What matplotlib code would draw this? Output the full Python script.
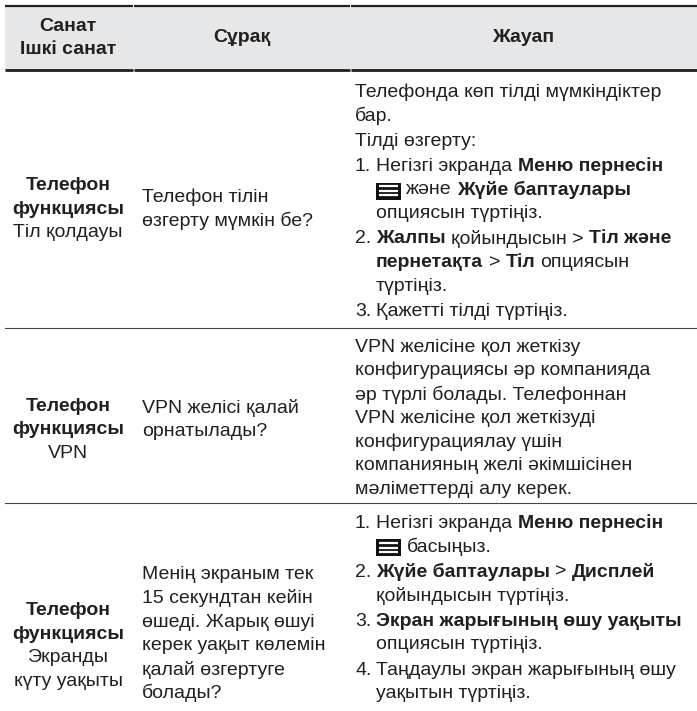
import matplotlib
matplotlib.use("Agg")
import matplotlib.pyplot as plt
from matplotlib.patches import Rectangle

W, H = 697, 711
FONT = ["Liberation Sans", "DejaVu Sans"]
FS = 14
INK = "#231f20"
MENU = "<menu>"

# ----------------------------------------------------------------------
# table content
# ----------------------------------------------------------------------
headers = [["Санат", "Ішкі санат"], ["Сұрақ"], ["Жауап"]]

categories = [
    [("Телефон", True), ("функциясы", True), ("Тіл қолдауы", False)],
    [("Телефон", True), ("функциясы", True), ("VPN", False)],
    [("Телефон", True), ("функциясы", True), ("Экранды", False), ("күту уақыты", False)],
]

questions = [
    ["Телефон тілін", "өзгерту мүмкін бе?"],
    ["VPN желісі қалай", "орнатылады?"],
    ["Менің экраным тек", "15 секундтан кейін", "өшеді. Жарық өшуі",
     "керек уақыт көлемін", "қалай өзгертуге", "болады?"],
]

# each answer = list of (number, lines); each line = list of (text, bold)
answers = [
    [
        (None, [[("Телефонда көп тілді мүмкіндіктер", False)], [("бар.", False)]]),
        (None, [[("Тілді өзгерту:", False)]]),
        ("1.", [[("Негізгі экранда ", False), ("Меню пернесін", True)],
                [(MENU, False), (" және ", False), ("Жүйе баптаулары", True)],
                [("опциясын түртіңіз.", False)]]),
        ("2.", [[("Жалпы", True), (" қойындысын > ", False), ("Тіл және", True)],
                [("пернетақта", True), (" > ", False), ("Тіл", True), (" опциясын", False)],
                [("түртіңіз.", False)]]),
        ("3.", [[("Қажетті тілді түртіңіз.", False)]]),
    ],
    [
        (None, [[("VPN желісіне қол жеткізу", False)],
                [("конфигурациясы әр компанияда", False)],
                [("әр түрлі болады. Телефоннан", False)],
                [("VPN желісіне қол жеткізуді", False)],
                [("конфигурациялау үшін", False)],
                [("компанияның желі әкімшісінен", False)],
                [("мәліметтерді алу керек.", False)]]),
    ],
    [
        ("1.", [[("Негізгі экранда ", False), ("Меню пернесін", True)],
                [(MENU, False), (" басыңыз.", False)]]),
        ("2.", [[("Жүйе баптаулары", True), (" > ", False), ("Дисплей", True)],
                [("қойындысын түртіңіз.", False)]]),
        ("3.", [[("Экран жарығының өшу уақыты", True)],
                [("опциясын түртіңіз.", False)]]),
        ("4.", [[("Таңдаулы экран жарығының өшу", False)],
                [("уақытын түртіңіз.", False)]]),
    ],
]

# ----------------------------------------------------------------------
# layout (pixels)
# ----------------------------------------------------------------------
X0, C1, C2 = 5, 133, 350
HEAD_TOP, HEAD_BOT = 6, 70
ROW_LINES = [328, 503]
ANS_START = [92, 347, 523]
CAT_MID = [209, 430, 646]
Q_MID = [209, 420, 634]
LH = 23.7
PGAP = 1.6
X_CAT = 68
X_Q = 142
X_ANS = 355
X_IND = 376

fig = plt.figure(figsize=(W / 100, H / 100), dpi=100)
ax = fig.add_axes([0, 0, 1, 1])
ax.set_xlim(0, W)
ax.set_ylim(H, 0)
ax.axis("off")
renderer = fig.canvas.get_renderer()


def put(x, y, s, bold=False, ha="left"):
    return ax.text(x, y, s, ha=ha, va="center", fontsize=FS, color=INK,
                   family=FONT, fontweight="bold" if bold else "normal")


def width(s, bold=False):
    t = put(0, -100, s, bold)
    w = t.get_window_extent(renderer).width
    t.remove()
    return w


SPACE = {b: width("x x", b) - width("xx", b) for b in (False, True)}


def menu_icon(x, y):
    w, h = 25, 17
    ax.add_patch(Rectangle((x, y - h / 2), w, h, color="#111111", lw=0))
    for dy in (-4.5, 0, 4.5):
        ax.plot([x + 3, x + w - 3], [y + dy, y + dy], color="white", lw=1.6,
                solid_capstyle="butt")
    return w


def draw_runs(x, y, runs):
    for s, bold in runs:
        if s == MENU:
            x += menu_icon(x, y + 1)
            continue
        lead = len(s) - len(s.lstrip(" "))
        trail = len(s) - len(s.rstrip(" "))
        core = s.strip(" ")
        x += lead * SPACE[bold]
        put(x, y, core, bold)
        x += width(core, bold) + trail * SPACE[bold]


# header band
ax.add_patch(Rectangle((X0, HEAD_TOP), W - X0, HEAD_BOT - HEAD_TOP,
                       color="#e6e7e8", lw=0))
for a, b in [(X0, C1), (C1 + 1, C2), (C2 + 1, W)]:
    ax.plot([a, b], [HEAD_TOP, HEAD_TOP], color=INK, lw=1.6, solid_capstyle="butt")
    ax.plot([a, b], [HEAD_BOT, HEAD_BOT], color=INK, lw=2.0, solid_capstyle="butt")
for y in ROW_LINES:
    ax.plot([X0, W], [y, y], color="#444444", lw=0.8)

head_x = [X_CAT, (C1 + C2) / 2, (C2 + W) / 2]
mid = (HEAD_TOP + HEAD_BOT) / 2
for hx, lines in zip(head_x, headers):
    n = len(lines)
    for i, s in enumerate(lines):
        put(hx, mid + (i - (n - 1) / 2) * 23, s, True, ha="center")

for r in range(3):
    cat = categories[r]
    for i, (s, bold) in enumerate(cat):
        put(X_CAT, CAT_MID[r] + (i - (len(cat) - 1) / 2) * LH, s, bold, ha="center")
    q = questions[r]
    for i, s in enumerate(q):
        put(X_Q, Q_MID[r] + (i - (len(q) - 1) / 2) * LH, s)
    y = ANS_START[r]
    for num, lines in answers[r]:
        for j, runs in enumerate(lines):
            if num is None:
                draw_runs(X_ANS, y, runs)
            else:
                if j == 0:
                    put(X_ANS, y, num)
                draw_runs(X_IND, y, runs)
            y += LH
        y += PGAP

fig.savefig("out.png", dpi=100)
